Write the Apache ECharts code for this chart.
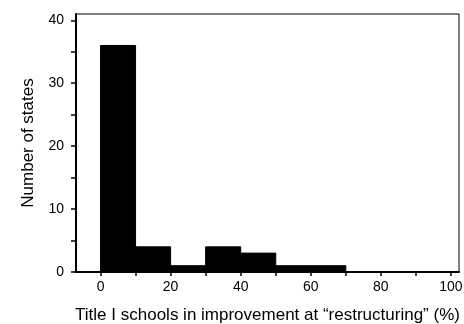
<!DOCTYPE html>
<html><head><meta charset="utf-8">
<script src="https://cdn.jsdelivr.net/npm/echarts@6/dist/echarts.min.js"></script>
<style>html,body{margin:0;padding:0;background:#fff}#c{width:464px;height:324px}</style>
</head><body><div id="c"></div>
<script>
const binStarts = [0, 10, 20, 30, 40, 50, 60, 70, 80, 90];
const binEnds   = [10, 20, 30, 40, 50, 60, 70, 80, 90, 100];
const counts    = [36, 4, 1, 4, 3, 1, 1, 0, 0, 0];
const xTicks = [0, 10, 20, 30, 40, 50, 60, 70, 80, 90, 100];
const xLabels = [0, 20, 40, 60, 80, 100];
const yTicks = [0, 5, 10, 15, 20, 25, 30, 35, 40];
const yLabels = [0, 10, 20, 30, 40];

const data = binStarts.map((s, i) => [s, binEnds[i], counts[i]]);
const chart = echarts.init(document.getElementById('c'), null, {renderer: 'canvas'});
const font = '"Liberation Sans", Arial, Helvetica, sans-serif';
chart.setOption({
  animation: false,
  grid: {left: 76, right: 5, top: 14, bottom: 52, outerBoundsMode: 'none', containLabel: false,
         show: true, borderColor: '#000', borderWidth: 1, backgroundColor: 'transparent'},
  xAxis: {
    type: 'value', min: -7, max: 102.3,
    name: 'Title I schools in improvement at \u201crestructuring\u201d (%)',
    nameLocation: 'middle', nameGap: 35,
    nameTextStyle: {fontFamily: font, fontSize: 17, color: '#000'},
    axisLine: {show: true, onZero: false, lineStyle: {color: '#000', width: 2}},
    axisTick: {show: true, length: 4, customValues: xTicks, lineStyle: {color: '#000', width: 1.5}},
    axisLabel: {customValues: xLabels, margin: 8, fontFamily: font, fontSize: 14, color: '#000'},
    splitLine: {show: false}
  },
  yAxis: {
    type: 'value', min: 0, max: 41,
    name: 'Number of states', nameLocation: 'middle', nameGap: 39,
    nameTextStyle: {fontFamily: font, fontSize: 17, color: '#000'},
    axisLine: {show: true, onZero: false, lineStyle: {color: '#000', width: 2}},
    axisTick: {show: true, length: 5, customValues: yTicks, lineStyle: {color: '#000', width: 1.5}},
    axisLabel: {customValues: yLabels, margin: 12, fontFamily: font, fontSize: 14, color: '#000'},
    splitLine: {show: false}
  },
  series: [{
    type: 'custom',
    renderItem: function (params, api) {
      const p0 = api.coord([api.value(0), 0]);
      const p1 = api.coord([api.value(1), api.value(2)]);
      return {
        type: 'rect',
        shape: {x: p0[0], y: p1[1], width: p1[0] - p0[0], height: p0[1] - p1[1]},
        style: {fill: '#000', stroke: '#000', lineWidth: 1}
      };
    },
    encode: {x: [0, 1], y: 2},
    data: data
  }]
});
</script></body></html>
